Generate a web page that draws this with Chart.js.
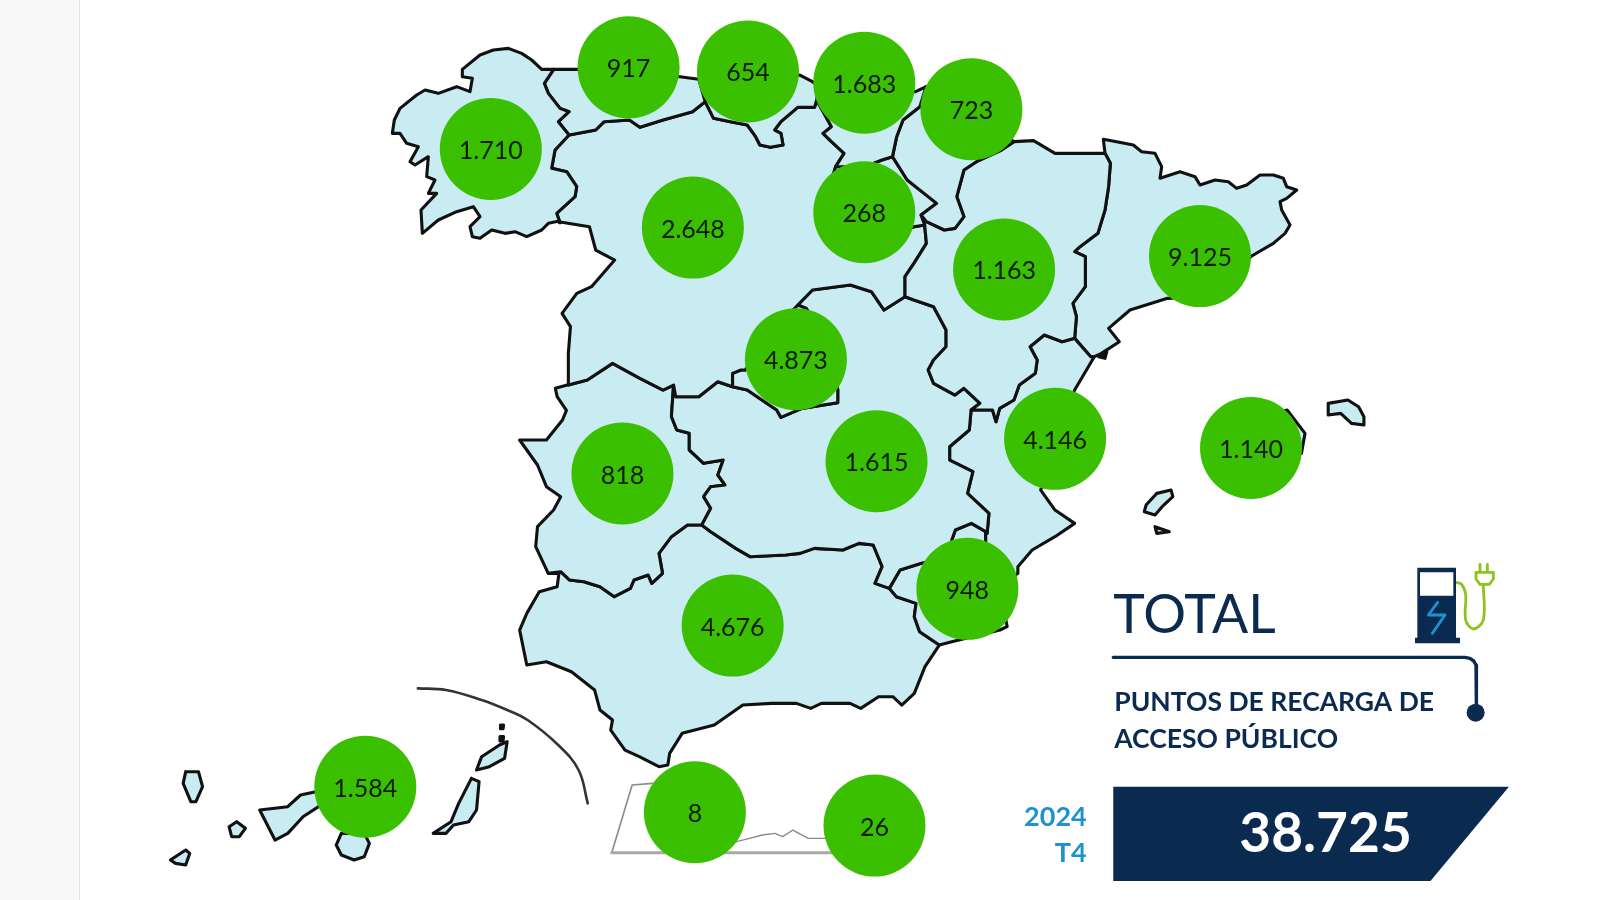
<!DOCTYPE html>
<html lang="es"><head><meta charset="utf-8"><title>Puntos de recarga de acceso público</title>
<script src="https://cdn.jsdelivr.net/npm/chart.js@4/dist/chart.umd.min.js"></script>
<style>
html,body{margin:0;padding:0;background:#fff;width:1600px;height:900px;overflow:hidden}
#side{position:absolute;left:0;top:0;width:80px;height:900px;background:#f8f8f8;border-right:1px solid #e2e2e2;box-sizing:border-box}
canvas{position:absolute;left:0;top:0}
</style></head><body><div id="side"></div><canvas id="c" width="1600" height="900"></canvas>
<script>
// ---- data ----
const regions=["Galicia","Asturias","Cantabria","País Vasco","Navarra","Castilla y León","La Rioja","Aragón","Cataluña","Madrid","C. Valenciana","Baleares","Extremadura","Castilla-La Mancha","Murcia","Andalucía","Canarias","Ceuta","Melilla"];
const puntos=[1710,917,654,1683,723,2648,268,1163,9125,4873,4146,1140,818,1615,948,4676,1584,8,26];
const mapX=[481,616,733,847,952,679,847,984,1176,780,1034,1226,610,859,948,718,358,681,857];
const mapY=[146,66,70,81,107,223,208,264,251,352,430,439,464,452,577,613,771,796,809];

// Outline tracings, each in the units of one tracing sheet
const sheets={A:[352.8,.4125,19.6,.3267],B:[862.4,.35,98,.3267],C:[490,.35,392,.3267],D:[147,.5,656.6,.3267],E:[980,.375,539,.3267],G:[377.3,.3267,29.4,.3267],H:[1078,.3267,127.4,.3267],I:[1372,.3267,543.9,.3267]};
const S=(k,a)=>{const f=sheets[k],o=[];for(let i=0;i<a.length;i+=2)o.push({x:f[0]+f[1]*a[i],y:f[2]+f[3]*a[i+1]});return o;};
const rev=a=>a.slice().reverse();

const galCoast=S('G',[519,574,490,580,470,600,425,620,390,605,360,610,320,600,285,625,262,620,255,590,285,560,265,530,215,545,160,570,112,610,108,540,155,490,130,490,150,450,125,440,130,380,90,405,75,395,100,350,65,340,45,310,22,310,28,270,45,235,95,195,120,180,160,190,215,170,255,185,262,145,232,140,232,118,285,75,325,60,370,55,410,70,440,90,470,118,506,118]);
const galAst=S('G',[506,118,478,160,490,190,525,235,552,245,520,275,552,315]);
const galCyl=S('G',[552,315,510,360,500,415,545,425,575,470,570,500,515,550,525,578,519,574]);
const astCoast=S('A',[460,148,515,148,640,150,760,170,805,178]);
const astCyl=S('A',[497,345,560,330,580,305,640,300,665,322,720,300,790,275,820,245]);
const astCan=S('A',[820,245,805,178]);
const canCoast=S('A',[805,178,920,170,1045,165,1075,185,1090,200]);
const canPv=S('A',[1090,200,1085,240]);
const canCyl=S('A',[820,245,840,295,880,305,920,315,940,350,950,375,975,382,1005,375,1000,340,985,330,1000,305,1040,262,1080,262,1085,240]);
const pvCoast=S('A',[1090,200,1200,220,1320,215,1345,200]);
const pvNav=S('A',[1345,200,1330,260,1290,300,1275,350,1265,410]);
const pvRio=S('A',[1265,410,1240,420,1200,440,1130,440]);
const pvCyl=S('A',[1085,240,1120,320,1100,340,1120,365,1150,400,1130,440]);
const rioNav=[...S('A',[1265,410,1300,480,1340,520,1370,550]),...S('B',[115,345])];
const rioCyl=[...S('B',[125,375,95,380]),...S('A',[1250,650,1130,650,1100,570,1130,440])];
const navAra=S('B',[115,345,130,365,180,390,210,385,235,350,215,290,235,210,270,185,340,150,375,125]);
const araTop=S('B',[375,125,430,122,490,160,555,160,630,160]);
const araCat=S('B',[630,160,645,190,640,260,630,330,610,400,560,440,545,455,575,470,575,560,540,610,550,650,545,715]);
const araVal=S('B',[545,715,510,725,460,705,420,740,440,780,435,820,390,855,375,900,335,925,325,965,315,930,255,930]);
const araClm=S('B',[255,930,280,910,235,865,210,885,150,850,135,810,150,780,185,740,185,690,150,620,95,600,70,590]);
const araCyl=S('B',[70,590,70,530,95,490,130,430,125,375]);
const cylClm=S('A',[1245,870,1215,815,1165,795,1075,810,1040,855]);
const cylMad=S('A',[1040,855,970,950,915,1050,905,1050,885,1060,885,1100]);
const cylClm2=S('A',[885,1100,850,1085,805,1130,750,1130,745,1095]);
const cylExt=S('A',[745,1095,720,1110,665,1075,600,1030,540,1080,495,1095]);
const cylPort=S('A',[495,1095,495,1000,500,920,480,880,515,820,550,800,605,720,560,690,545,620,472,605]);
const madEast=S('A',[1040,855,1060,865,1120,1000,1135,1110,1135,1148,1050,1165,1000,1192,990,1170,920,1110,885,1100]);
const extClm=S('C',[486,-45,480,50,495,90,530,100,530,150,570,190,625,180,610,225,630,255,590,260,570,290,590,325,565,375]);
const andClm=S('C',[565,375,590,395,660,445,700,470,800,465,840,460,880,445,960,450,1005,430,1045,435,1070,500,1050,550,1090,565]);
const clmMur=S('C',[1090,565,1120,510,1180,490,1260,470,1265,420,1275,390,1320,370,1360,395]);
const clmVal=S('B',[255,930,250,990,195,1040,195,1080,260,1115,245,1180,305,1240,300,1300]);
const catVal=S('B',[545,715,590,770,600,770]);
const valCoast=[...S('B',[600,770,545,870,500,1000,450,1170,490,1230,545,1270,490,1310]),...S('C',[1490,450,1450,500,1450,520,1400,560])];
const valMur=S('C',[1400,560,1360,440,1360,395]);
const murCoast=S('C',[1400,560,1420,680,1400,690,1265,725,1230,735]);
const andMur=S('C',[1230,735,1175,695,1160,650,1165,610,1110,590,1090,565]);
const extAnd=S('C',[565,375,525,375,480,410,445,460,455,520,425,550,415,525,375,540,365,565,320,590,280,560,235,545,195,540,170,515,135,520]);
const extPort=S('C',[191,-46,155,-35,160,-10,186,31,175,60,130,120,55,120,105,195,130,260,170,290,150,330,105,380,100,440,135,520]);
const andCoast=S('C',[135,520,165,520,160,560,110,575,75,640,55,690,75,795,130,785,200,815,265,870,280,930,315,960,310,990,350,1050,390,1070,445,1100,470,1095,475,1060,510,1000,600,975,680,915,760,910,830,910,870,925,900,910,980,910,1010,925,1060,890,1100,890,1125,915,1160,880,1190,800,1230,735]);
const catCoast=[...S('H',[15,69,10,28,50,35,100,45,125,65,165,70,185,110,180,145,240,125,285,140,300,165,345,150,385,155,410,175,440,165,480,135,520,135,550,145,560,170,590,180,560,205,540,215,545,240,570,285,555,310,520,340,455,378]),...S('B',[900,590,805,595,700,630,640,685,670,725,620,760,600,770])];

const polygons={
 galicia:[...galCoast,...galAst,...galCyl],
 asturias:[...galAst,...astCyl,...astCan,...rev(astCoast)],
 cantabria:[...astCan,...canCoast,...canPv,...rev(canCyl)],
 paisVasco:[...rev(canPv),...pvCoast,...pvNav,...pvRio,...rev(pvCyl)],
 navarra:[...pvNav,...rioNav,...navAra,{x:907.6,y:85}],
 rioja:[...rev(pvRio),...rioNav,...rioCyl],
 aragon:[...navAra,...araTop,...araCat,...araVal,...araClm,...araCyl,navAra[0]],
 cyl:[...astCyl,...canCyl,...pvCyl,...rev(rioCyl),...rev(araCyl),...cylClm,...cylMad,...cylClm2,...cylExt,...cylPort,...rev(galCyl)],
 madrid:[...cylMad,...rev(madEast)],
 clm:[...araClm,...cylClm,...madEast,...cylClm2,...extClm,...andClm,...clmMur,...rev(clmVal)],
 valencia:[...catVal,...valCoast,...valMur,...rev(clmVal),...rev(araVal)],
 murcia:[...clmMur,...rev(valMur),...murCoast,...andMur],
 cataluna:[...catCoast,...rev(catVal),...rev(araCat)],
 extremadura:[...extPort,...rev(extAnd),...rev(extClm),...cylExt],
 andalucia:[...extAnd,...andCoast,...andMur,...rev(andClm)],
 trevino:S('A',[1175,370,1225,380,1225,415,1190,410,1175,370]),
 mallorca:S('B',[960,1000,1140,930,1190,1000,1180,1060,1000,1120,960,1000]),
 menorca:S('B',[1255,910,1310,900,1340,920,1355,950,1355,975,1320,970,1290,940,1255,945,1255,910]),
 ibiza:S('B',[745,1215,775,1180,815,1170,820,1190,790,1220,770,1245,740,1235,745,1215]),
 formentera:S('B',[770,1280,810,1295,775,1300,770,1280]),
 laPalma:S('D',[70,305,95,305,103,350,90,395,80,395,65,340,70,305]),
 gomera:S('D',[155,470,170,455,187,475,175,500,160,500,155,470]),
 hierro:S('D',[40,570,70,540,78,550,70,585,50,580,40,570]),
 tenerife:S('D',[215,420,270,410,295,375,325,365,340,400,300,440,270,490,245,510,225,450,215,420]),
 granCanaria:S('D',[375,490,420,490,430,520,420,560,400,570,375,555,365,525,375,490]),
 fuerteventura:S('D',[630,325,645,335,640,420,625,455,595,465,580,490,555,490,590,455,605,400,630,325]),
 lanzarote:S('D',[640,300,650,260,685,225,700,215,695,265,665,290,640,300])
};
const blobs=[S('B',[610,750,635,755,630,775,612,770,610,750]),S('B',[258,245,270,220,290,235,265,250,258,245]),S('D',[687,165,693,165,692,176,687,176,687,165]),S('D',[686,200,693,200,692,213,686,213,686,200])];
const arc=S('D',[525,55,580,60,650,90,700,120,740,150,800,225,840,300,858,400]);
const frameLine=S('D',[985,340,945,345,905,548,1340,548]);
const africaCoast=S('D',[1060,505,1150,515,1175,505,1200,495,1225,490,1240,500,1260,480,1290,505,1320,505,1420,500]);
const totalBox=S('E',[296,710,1330,710,1125,993,296,993,296,710]);
const ruleLine=S('E',[296,322,1215,322,1228,325,1238,333,1244,345,1245,358,1245,480]);
const ruleDot=S('E',[1243,488]);
const pumpBody=S('I',[52,38,168,38,168,250,52,250,52,38]);
const pumpBase=S('I',[45,248,180,248,180,265,45,265,45,248]);
const pumpWindow=S('I',[60,52,160,52,160,122,60,122,60,52]);
const pumpBolt=S('I',[113,142,85,180,135,180,97,235]);
const cable=S('I',[168,82,185,88,197,120,197,195,220,222,250,195,250,90]);
const plug=S('I',[228,52,280,52,280,72,268,88,240,88,228,72,228,52]);
const prongA=S('I',[240,28,240,52]);
const prongB=S('I',[262,28,262,52]);
const panelText=[
 ["TOTAL",1091,620,"400 53.5px Lato","#0b2a50","left"],
 ["PUNTOS DE RECARGA DE",1092,697,"700 26.5px Lato","#0b2a50","left"],
 ["ACCESO PÚBLICO",1092,733,"700 26.5px Lato","#0b2a50","left"],
 ["2024",1065,809.5,"700 27px Lato","#1e92d0","right"],
 ["T4",1065,845,"700 27px Lato","#1e92d0","right"],
 ["38.725",1299,835,"700 55px Lato","#ffffff","center"]
];
// ---- chart ----
const fmt=v=>String(v).replace(/\B(?=(\d{3})+$)/g,'.');
const shape=(d,bg,order=20,bw=3.1,bc='#111',tension=0)=>({type:'scatter',data:d,showLine:true,fill:bg?'shape':false,backgroundColor:bg||'transparent',borderColor:bc,borderWidth:bw,pointRadius:0,pointHoverRadius:0,tension,borderJoinStyle:'round',borderCapStyle:'round',order});
const sets=[
 {type:'scatter',label:'Puntos de recarga',data:mapX.map((x,i)=>({x,y:mapY[i]})),backgroundColor:'#3ac000',borderWidth:0,pointRadius:51,pointHoverRadius:51,order:1},
 ...Object.values(polygons).map(p=>shape(p,'#c8ecf2')),
 ...blobs.map(p=>shape(p,'#111')),
 shape(arc,null,20,2.6,'#333',.4),
 shape(frameLine,null,20,1.6,'#8a8a8a'),
 shape(S('D',[905,548,1340,548]),null,19,3,'#a8a8a8'),
 shape(africaCoast,null,20,1.4,'#8a8a8a'),
 shape(totalBox,'#0b2a50',5,0,'#0b2a50'),
 shape(ruleLine,null,5,3.4,'#0b2a50'),
 {type:'scatter',data:ruleDot,backgroundColor:'#0b2a50',borderWidth:0,pointRadius:9,pointHoverRadius:9,order:5},
 shape(cable,null,6,2.8,'#8cc31e',.35),
 shape(plug,'#ffffff',6,2.8,'#8cc31e'),
 shape(prongA,null,6,2.8,'#8cc31e'),
 shape(prongB,null,6,2.8,'#8cc31e'),
 shape(pumpBase,'#0b2a50',5,0,'#0b2a50'),
 shape(pumpBody,'#0b2a50',5,0,'#0b2a50'),
 shape(pumpWindow,'#ffffff',4,0,'#ffffff'),
 shape(pumpBolt,null,3,2.8,'#1e92d0')
];
const labels={id:'labels',afterDatasetsDraw(ch){
 const c=ch.ctx,X=ch.scales.x,Y=ch.scales.y;c.save();
 c.textBaseline='middle';c.textAlign='center';c.font='400 25px Lato';c.fillStyle='#0a1a08';
 puntos.forEach((v,i)=>c.fillText(fmt(v),X.getPixelForValue(mapX[i]),Y.getPixelForValue(mapY[i])+2));
 c.textBaseline='alphabetic';
 panelText.forEach(t=>{c.font=t[3];c.fillStyle=t[4];c.textAlign=t[5];c.fillText(t[0],X.getPixelForValue(t[1]),Y.getPixelForValue(t[2]));});
 c.restore();}};
new Chart(document.getElementById('c'),{type:'scatter',data:{datasets:sets},plugins:[labels],options:{
 responsive:false,animation:false,devicePixelRatio:1,layout:{padding:0,autoPadding:false},
 plugins:{legend:{display:false},tooltip:{enabled:false}},
 scales:{x:{type:'linear',display:false,min:0,max:1568},y:{type:'linear',display:false,min:0,max:882,reverse:true}}
}});
</script></body></html>
